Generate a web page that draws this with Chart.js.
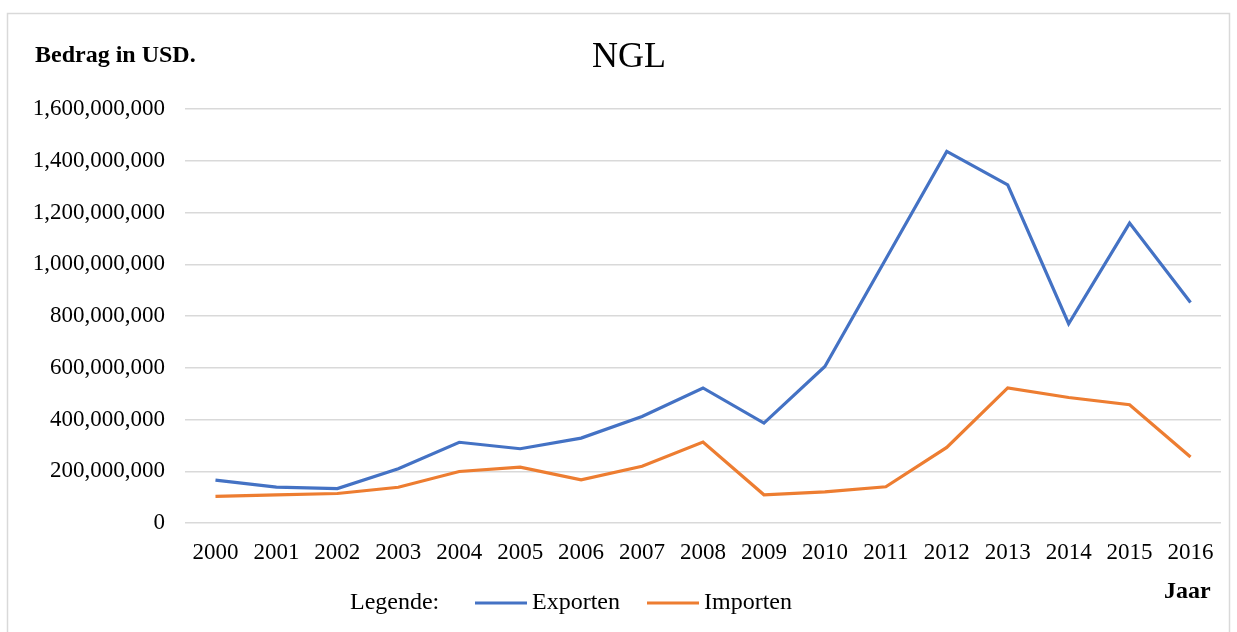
<!DOCTYPE html>
<html>
<head>
<meta charset="utf-8">
<script src="https://cdn.jsdelivr.net/npm/chart.js@4"></script>
<style>
  html, body { margin: 0; padding: 0; background: #fff; }
  #wrap { width: 1237px; height: 632px; }
</style>
</head>
<body>
<div id="wrap"><canvas id="ngl" width="1237" height="632"></canvas></div>
<script>
const years = ['2000', '2001', '2002', '2003', '2004', '2005', '2006', '2007', '2008',
               '2009', '2010', '2011', '2012', '2013', '2014', '2015', '2016'];
const exporten = [166e6, 139e6, 133e6, 210e6, 312e6, 287e6, 328e6, 412e6, 522e6,
                  386e6, 605e6, 1020e6, 1436e6, 1307e6, 770e6, 1159e6, 852e6];
const importen = [103e6, 109e6, 114e6, 138e6, 199e6, 216e6, 167e6, 219e6, 313e6,
                  109e6, 120e6, 140e6, 292e6, 522e6, 485e6, 457e6, 255e6];
const yTicks = [0, 200e6, 400e6, 600e6, 800e6, 1000e6, 1200e6, 1400e6, 1600e6];

const SERIF = "'Liberation Serif', 'Times New Roman', serif";

// Title, axis captions, legend and outer frame
const decorations = {
  id: 'decorations',
  afterDraw(chart) {
    const ctx = chart.ctx;
    ctx.save();
    ctx.strokeStyle = '#d9d9d9';
    ctx.lineWidth = 1.5;
    ctx.strokeRect(7.5, 13.5, 1222, 640);

    ctx.fillStyle = '#000';
    ctx.textBaseline = 'middle';
    ctx.font = `36px ${SERIF}`;
    ctx.textAlign = 'center';
    ctx.fillText('NGL', 629, 58);

    ctx.font = `bold 24px ${SERIF}`;
    ctx.textAlign = 'left';
    ctx.fillText('Bedrag in USD.', 35, 56);
    ctx.fillText('Jaar', 1164, 592);

    ctx.font = `24px ${SERIF}`;
    ctx.fillText('Legende:', 350, 603);
    let x = 475;
    chart.data.datasets.forEach(ds => {
      ctx.strokeStyle = ds.borderColor;
      ctx.lineWidth = 3;
      ctx.beginPath();
      ctx.moveTo(x, 603);
      ctx.lineTo(x + 52, 603);
      ctx.stroke();
      ctx.fillText(ds.label, x + 57, 603);
      x += 172;
    });
    ctx.restore();
  }
};

new Chart(document.getElementById('ngl'), {
  type: 'line',
  data: {
    labels: years,
    datasets: [
      { label: 'Exporten', data: exporten, borderColor: '#4472C4', borderWidth: 3.2, pointRadius: 0, tension: 0 },
      { label: 'Importen', data: importen, borderColor: '#ED7D31', borderWidth: 3.2, pointRadius: 0, tension: 0 },
    ]
  },
  options: {
    responsive: false,
    animation: false,
    layout: { padding: { top: 109, right: 16, left: 0, bottom: 0 } },
    plugins: { legend: { display: false }, tooltip: { enabled: false } },
    scales: {
      x: {
        offset: true,
        grid: { display: false },
        border: { display: false },
        ticks: { color: '#000', font: { family: SERIF, size: 23 }, padding: 8, maxRotation: 0, autoSkip: false },
        afterFit: s => { s.height = 109; },
      },
      y: {
        min: 0,
        max: 1600e6,
        afterBuildTicks: s => { s.ticks = yTicks.map(v => ({ value: v })); },
        grid: { color: '#d9d9d9', lineWidth: 1.5, drawTicks: false },
        border: { display: false },
        ticks: {
          color: '#000',
          font: { family: SERIF, size: 23 },
          padding: 20,
          callback: v => v.toLocaleString('en-US'),
        },
        afterFit: s => { s.width = 185; },
      }
    }
  },
  plugins: [decorations]
});
</script>
</body>
</html>
